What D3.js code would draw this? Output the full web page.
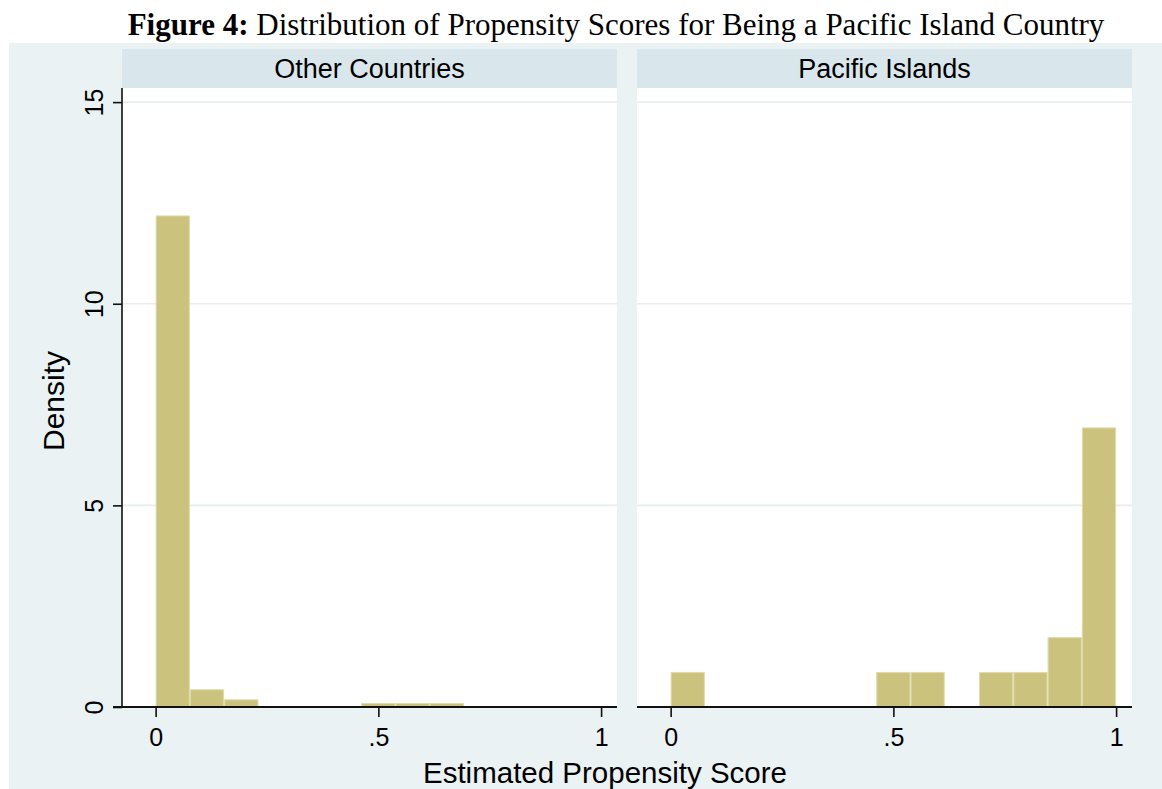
<!DOCTYPE html>
<html>
<head>
<meta charset="utf-8">
<script src="https://cdn.jsdelivr.net/npm/d3@7"></script>
<style>
  html, body { margin: 0; padding: 0; background: #ffffff; }
  svg { display: block; }
</style>
</head>
<body>
<svg id="chart" width="1162" height="789"></svg>
<script>
// Histogram bins (lower edges) on the propensity-score axis, common to both panels
const binStarts = [0, 0.0769, 0.1538, 0.2308, 0.3077, 0.3846, 0.4615, 0.5385, 0.6154, 0.6923, 0.7692, 0.8462, 0.9231];
const binEnd = 1;

// Panel titles
const panelNames = ["Other Countries", "Pacific Islands"];

// Density per bin for each group
const otherDensity   = [12.19, 0.44, 0.19, 0, 0, 0, 0.10, 0.10, 0.10, 0, 0, 0, 0];
const pacificDensity = [0.867, 0, 0, 0, 0, 0, 0.867, 0.867, 0, 0.867, 0.867, 1.733, 6.933];

// Axis ticks
const xTicks = [0, 0.5, 1];
const xTickLabels = ["0", ".5", "1"];
const yTicks = [0, 5, 10, 15];
const yTickLabels = ["0", "5", "10", "15"];

const svg = d3.select("#chart");

const colors = {
  outer: "#eaf2f3",
  strip: "#d9e6eb",
  plot: "#ffffff",
  grid: "#e6eef0",
  bar: "#cbc37d",
  barEdge: "#e0dbab",
  axis: "#111111"
};

const sans = "'Liberation Sans', Arial, sans-serif";

// Outer graph region
svg.append("rect")
  .attr("x", 9).attr("y", 43)
  .attr("width", 1162 - 9).attr("height", 789 - 43)
  .attr("fill", colors.outer);

// Title
const title = svg.append("text")
  .attr("x", 616).attr("y", 35)
  .attr("text-anchor", "middle")
  .attr("font-family", "'Liberation Serif', 'Times New Roman', serif")
  .attr("font-size", 31)
  .attr("fill", "#000");
title.append("tspan").attr("font-weight", "bold").text("Figure 4:");
title.append("tspan").text(" Distribution of Propensity Scores for Being a Pacific Island Country");

const panelLeft = [122, 637];
const panelWidth = 495;
const plotTop = 88, plotBottom = 707;
const stripTop = 49;

const x = d3.scaleLinear().domain([-0.0755, 1.0357]).range([0, panelWidth]);
const y = d3.scaleLinear().domain([0, 15.35]).range([plotBottom, plotTop]);

const series = [otherDensity, pacificDensity];

const binData = binStarts.map((s, i) => ({
  x0: s,
  x1: i < binStarts.length - 1 ? binStarts[i + 1] : binEnd
}));

panelNames.forEach((name, p) => {
  const g = svg.append("g").attr("transform", `translate(${panelLeft[p]},0)`);

  // strip
  g.append("rect")
    .attr("x", 0).attr("y", stripTop)
    .attr("width", panelWidth).attr("height", plotTop - stripTop)
    .attr("fill", colors.strip);
  g.append("text")
    .attr("x", panelWidth / 2).attr("y", 78)
    .attr("text-anchor", "middle")
    .attr("font-family", sans)
    .attr("font-size", 27)
    .attr("fill", "#000")
    .text(name);

  // plot region
  g.append("rect")
    .attr("x", 0).attr("y", plotTop)
    .attr("width", panelWidth).attr("height", plotBottom - plotTop)
    .attr("fill", colors.plot);

  // horizontal grid lines
  g.append("g").selectAll("line")
    .data(yTicks.filter(t => t > 0))
    .join("line")
    .attr("x1", 0).attr("x2", panelWidth)
    .attr("y1", d => y(d)).attr("y2", d => y(d))
    .attr("stroke", colors.grid)
    .attr("stroke-width", 1.6);

  // bars
  g.append("g").selectAll("rect")
    .data(binData.map((b, i) => ({ ...b, v: series[p][i] })).filter(d => d.v > 0))
    .join("rect")
    .attr("x", d => x(d.x0) + 0.5)
    .attr("width", d => x(d.x1) - x(d.x0) - 1)
    .attr("y", d => y(d.v) + 0.5)
    .attr("height", d => y(0) - y(d.v) - 0.5)
    .attr("fill", colors.bar)
    .attr("stroke", colors.barEdge)
    .attr("stroke-width", 1);

  // x axis
  const xAxis = d3.axisBottom(x)
    .tickValues(xTicks)
    .tickFormat((d, i) => xTickLabels[i])
    .tickSize(10)
    .tickPadding(11)
    .tickSizeOuter(0);
  const ax = g.append("g")
    .attr("transform", `translate(0,${plotBottom})`)
    .call(xAxis);
  ax.select(".domain")
    .attr("d", `M${p === 0 ? -9 : 0},0H${panelWidth}`)
    .attr("stroke", colors.axis)
    .attr("stroke-width", 2);
  ax.selectAll(".tick line").attr("stroke", colors.axis).attr("stroke-width", 1.6);
  ax.selectAll(".tick text")
    .attr("font-family", sans)
    .attr("font-size", 25)
    .attr("fill", "#000");
});

// y axis on left panel
const yAxis = d3.axisLeft(y)
  .tickValues(yTicks)
  .tickFormat((d, i) => yTickLabels[i])
  .tickSize(9)
  .tickSizeOuter(0);
const ay = svg.append("g")
  .attr("transform", `translate(${panelLeft[0]},0)`)
  .call(yAxis);
ay.select(".domain")
  .attr("d", `M0,${plotTop}V${plotBottom}`)
  .attr("stroke", colors.axis)
  .attr("stroke-width", 1.6);
ay.selectAll(".tick line").attr("stroke", colors.axis).attr("stroke-width", 1.6);
ay.selectAll(".tick text")
  .attr("x", null).attr("dy", null)
  .attr("text-anchor", "middle")
  .attr("transform", "translate(-19,0) rotate(-90)")
  .attr("font-family", sans)
  .attr("font-size", 25)
  .attr("fill", "#000");

// axis titles
svg.append("text")
  .attr("transform", "translate(64,401) rotate(-90)")
  .attr("text-anchor", "middle")
  .attr("font-family", sans)
  .attr("font-size", 30)
  .attr("fill", "#000")
  .text("Density");

svg.append("text")
  .attr("x", 605).attr("y", 783)
  .attr("text-anchor", "middle")
  .attr("font-family", sans)
  .attr("font-size", 29.5)
  .attr("fill", "#000")
  .text("Estimated Propensity Score");
</script>
</body>
</html>
